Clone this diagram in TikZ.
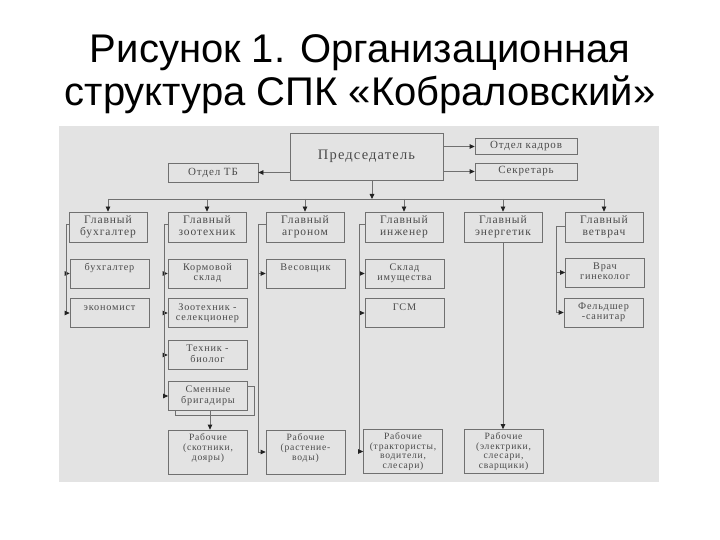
\documentclass[tikz,border=0pt]{standalone}
\usepackage{fontspec}
\setmainfont{Liberation Serif}
\newfontfamily\titlefont{Liberation Sans}
\newfontfamily\boxfont[LetterSpace=8]{Liberation Serif}
\usetikzlibrary{arrows.meta}
\definecolor{bg}{HTML}{E3E3E3}
\definecolor{ln}{HTML}{707070}
\definecolor{tx}{HTML}{4A4A4A}
\definecolor{ar}{HTML}{222222}
\tikzset{
  box/.style={draw=ln, line width=0.8pt, fill=bg, inner sep=1pt, align=center, text=tx,
    font=\boxfont\fontsize{11}{12}\selectfont},
  lvtwo/.style={box, minimum width=78pt, minimum height=30pt, font=\boxfont\fontsize{11.5}{12}\selectfont},
  lvthree/.style={box, minimum width=79pt, minimum height=29pt, font=\boxfont\fontsize{10.2}{10}\selectfont},
  lvfour/.style={box, minimum width=79pt, minimum height=44pt, font=\boxfont\fontsize{9.6}{9.8}\selectfont},
  wire/.style={draw=ln, line width=0.8pt},
  conn/.style={wire, -{Triangle[length=5pt,width=4.6pt,color=ar]}},
  ttl/.style={font=\titlefont\fontsize{40}{43}\selectfont, text=black, anchor=base, inner sep=0pt}
}
\begin{document}
\begin{tikzpicture}[x=1pt,y=-1pt]
\useasboundingbox (0,0) rectangle (720,540);
\fill[white] (0,0) rectangle (720,540);
\node[ttl] (title1) at (360,63) {Рисунок 1. Организационная};
\node[ttl] (title2) at (360,106) {структура СПК «Кобраловский»};
\fill[bg] (59,126) rectangle (659,482);

% top level
\node[box, minimum width=153pt, minimum height=47pt, font=\boxfont\fontsize{14.5}{16}\selectfont] (pred) at (366.5,156.5) {Председатель};
\node[box, minimum width=90pt, minimum height=19pt] (otb) at (213,172.5) {Отдел ТБ};
\node[box, minimum width=102pt, minimum height=16pt, inner sep=0.5pt] (kadr) at (526,146.5) {Отдел кадров};
\node[box, minimum width=102pt, minimum height=17pt] (sekr) at (526,171.5) {Секретарь};

% level 2
\node[lvtwo] (buh) at (108,227) {\strut Главный\\бухгалтер\strut};
\node[lvtwo] (zoo) at (207,227) {\strut Главный\\зоотехник\strut};
\node[lvtwo] (agr) at (305,227) {\strut Главный\\агроном\strut};
\node[lvtwo] (ing) at (404,227) {\strut Главный\\инженер\strut};
\node[lvtwo] (ener) at (503,227) {\strut Главный\\энергетик\strut};
\node[lvtwo] (vet) at (604,227) {\strut Главный\\ветврач\strut};

% level 3
\node[lvthree] (buh1) at (109.5,273.5) {\strut бухгалтер\\\mbox{}\strut};
\node[lvthree] (eko) at (109.5,313) {\strut экономист\\\mbox{}\strut};
\node[lvthree] (korm) at (207.5,273.5) {\strut Кормовой\\склад\strut};
\node[lvthree] (zsel) at (207.5,313) {\strut Зоотехник -\\селекционер\strut};
\node[lvthree] (tekh) at (207.5,355) {\strut Техник -\\биолог\strut};
\node[lvthree] (smenB) at (214.5,401) {};
\node[lvthree] (smen) at (208,396) {\strut Сменные\\бригадиры\strut};
\node[lvthree] (ves) at (305.5,273.5) {\strut Весовщик\\\mbox{}\strut};
\node[lvthree] (sklad) at (404.5,273.5) {\strut Склад\\имущества\strut};
\node[lvthree] (gsm) at (404.5,313) {\strut ГСМ\\\mbox{}\strut};
\node[lvthree] (vrach) at (605,272.5) {\strut Врач\\гинеколог\strut};
\node[lvthree] (feld) at (603.5,312.5) {\strut Фельдшер\\-санитар\strut};

% level 4
\node[lvfour] (rab1) at (208,452) {\strut Рабочие\\(скотники,\\дояры)\\\mbox{}};
\node[lvfour] (rab2) at (305.5,452) {\strut Рабочие\\(растение-\\воды)\\\mbox{}};
\node[lvfour] (rab3) at (403,451.5) {\strut Рабочие\\(трактористы,\\водители,\\слесари)};
\node[lvfour] (rab4) at (503.5,451.5) {\strut Рабочие\\(электрики,\\слесари,\\сварщики)};

% top connectors
\draw[conn] (pred.west |- otb) -- (otb.east);
\draw[conn] (pred.east |- kadr) -- (kadr.west);
\draw[conn] (pred.east |- sekr) -- (sekr.west);

\coordinate (busL) at (108,199);
\coordinate (busR) at (604,199);
\coordinate (busP) at (372,199);
\draw[wire] (busL) -- (busR);
\draw[conn] (pred.south -| busP) -- (busP);
\foreach \n in {buh,zoo,agr,ing,ener,vet}
  \draw[conn] (\n.north |- busL) -- (\n.north);

% group lines
\coordinate (gB) at (66,224);
\draw[wire] (gB -| buh.west) -- (gB);
\draw[conn] (gB |- buh1) -- (buh1.west);
\draw[conn] (gB) |- (eko.west);

\coordinate (gZ) at (164,224);
\draw[wire] (gZ -| zoo.west) -- (gZ);
\draw[conn] (gZ |- korm) -- (korm.west);
\draw[conn] (gZ |- zsel) -- (zsel.west);
\draw[conn] (gZ |- tekh) -- (tekh.west);
\draw[conn] (gZ) |- (smen.west);

\coordinate (gA) at (258,224);
\draw[wire] (gA -| agr.west) -- (gA);
\draw[conn] (gA |- ves) -- (ves.west);
\draw[conn] (gA) |- (rab2.west);

\coordinate (gI) at (359,224);
\draw[wire] (gI -| ing.west) -- (gI);
\draw[conn] (gI |- sklad) -- (sklad.west);
\draw[conn] (gI |- gsm) -- (gsm.west);
\draw[conn] (gI) |- (rab3.west);

\coordinate (gV) at (556,226);
\draw[wire] (gV -| vet.west) -- (gV);
\draw[conn] (gV |- vrach) -- (vrach.west);
\draw[conn] (gV) |- (feld.west);

\draw[conn] (ener.south) -- (rab4.north -| ener.south);
\draw[conn] ([xshift=2pt]smen.south) -- ([xshift=2pt]rab1.north);
\end{tikzpicture}
\end{document}
